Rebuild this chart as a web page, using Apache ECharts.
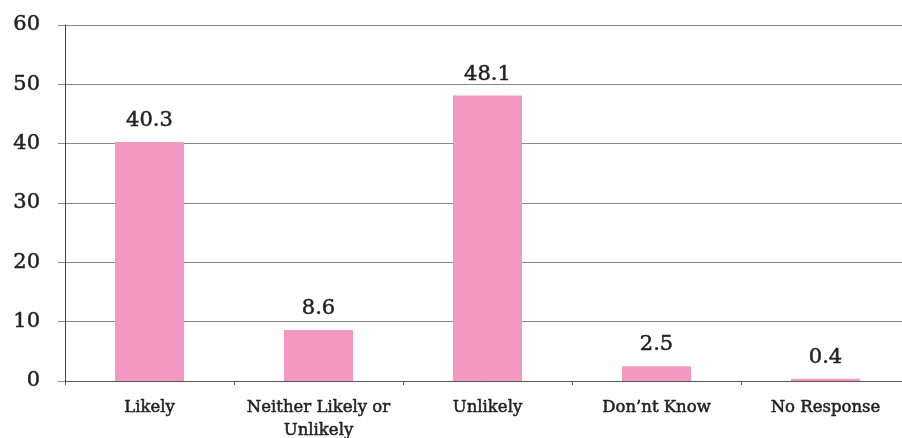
<!DOCTYPE html>
<html>
<head>
<meta charset="utf-8">
<script src="https://cdn.jsdelivr.net/npm/echarts@6/dist/echarts.min.js"></script>
<style>
  html, body { margin: 0; padding: 0; background: #fff; }
  #chart { width: 902px; height: 438px; }
</style>
</head>
<body>
<div id="chart"></div>
<script>
// Survey responses (percent)
const categories = ['Likely', 'Neither Likely or\nUnlikely', 'Unlikely', 'Don\u2019nt Know', 'No Response'];
const values = [40.3, 8.6, 48.1, 2.5, 0.4];
const yTicks = { min: 0, max: 60, interval: 10 };

const serif = '"DejaVu Serif", "Liberation Serif", serif';
const ink = '#222';
// a thin outline in the text colour gives the labels a slightly heavier weight
const heavy = { color: ink, fontFamily: serif, textBorderColor: ink, textBorderWidth: 0.5 };

const chart = echarts.init(document.getElementById('chart'));
chart.setOption({
  animation: false,
  grid: { left: 65, right: -8, top: 25, bottom: 57, containLabel: false, outerBoundsMode: 'none' },
  xAxis: {
    type: 'category',
    data: categories,
    axisLine: { lineStyle: { color: '#555', width: 1 } },
    axisTick: { show: true, length: 4, lineStyle: { color: '#555' } },
    axisLabel: Object.assign({}, heavy, {
      fontSize: 16.5, margin: 15, lineHeight: 23, interval: 0
    })
  },
  yAxis: {
    type: 'value',
    min: yTicks.min, max: yTicks.max, interval: yTicks.interval,
    axisLine: { show: true, lineStyle: { color: '#444', width: 1 } },
    axisTick: { show: true, length: 7, lineStyle: { color: '#888' } },
    splitLine: { lineStyle: { color: '#888', width: 1 } },
    axisLabel: Object.assign({}, heavy, { fontSize: 21, margin: 25 })
  },
  series: [{
    type: 'bar',
    data: values,
    barWidth: 69,
    itemStyle: { color: '#F398C3' },
    label: Object.assign({}, heavy, {
      show: true, position: 'top', distance: 11, fontSize: 21,
      formatter: p => p.value.toFixed(1)
    })
  }]
});
</script>
</body>
</html>
